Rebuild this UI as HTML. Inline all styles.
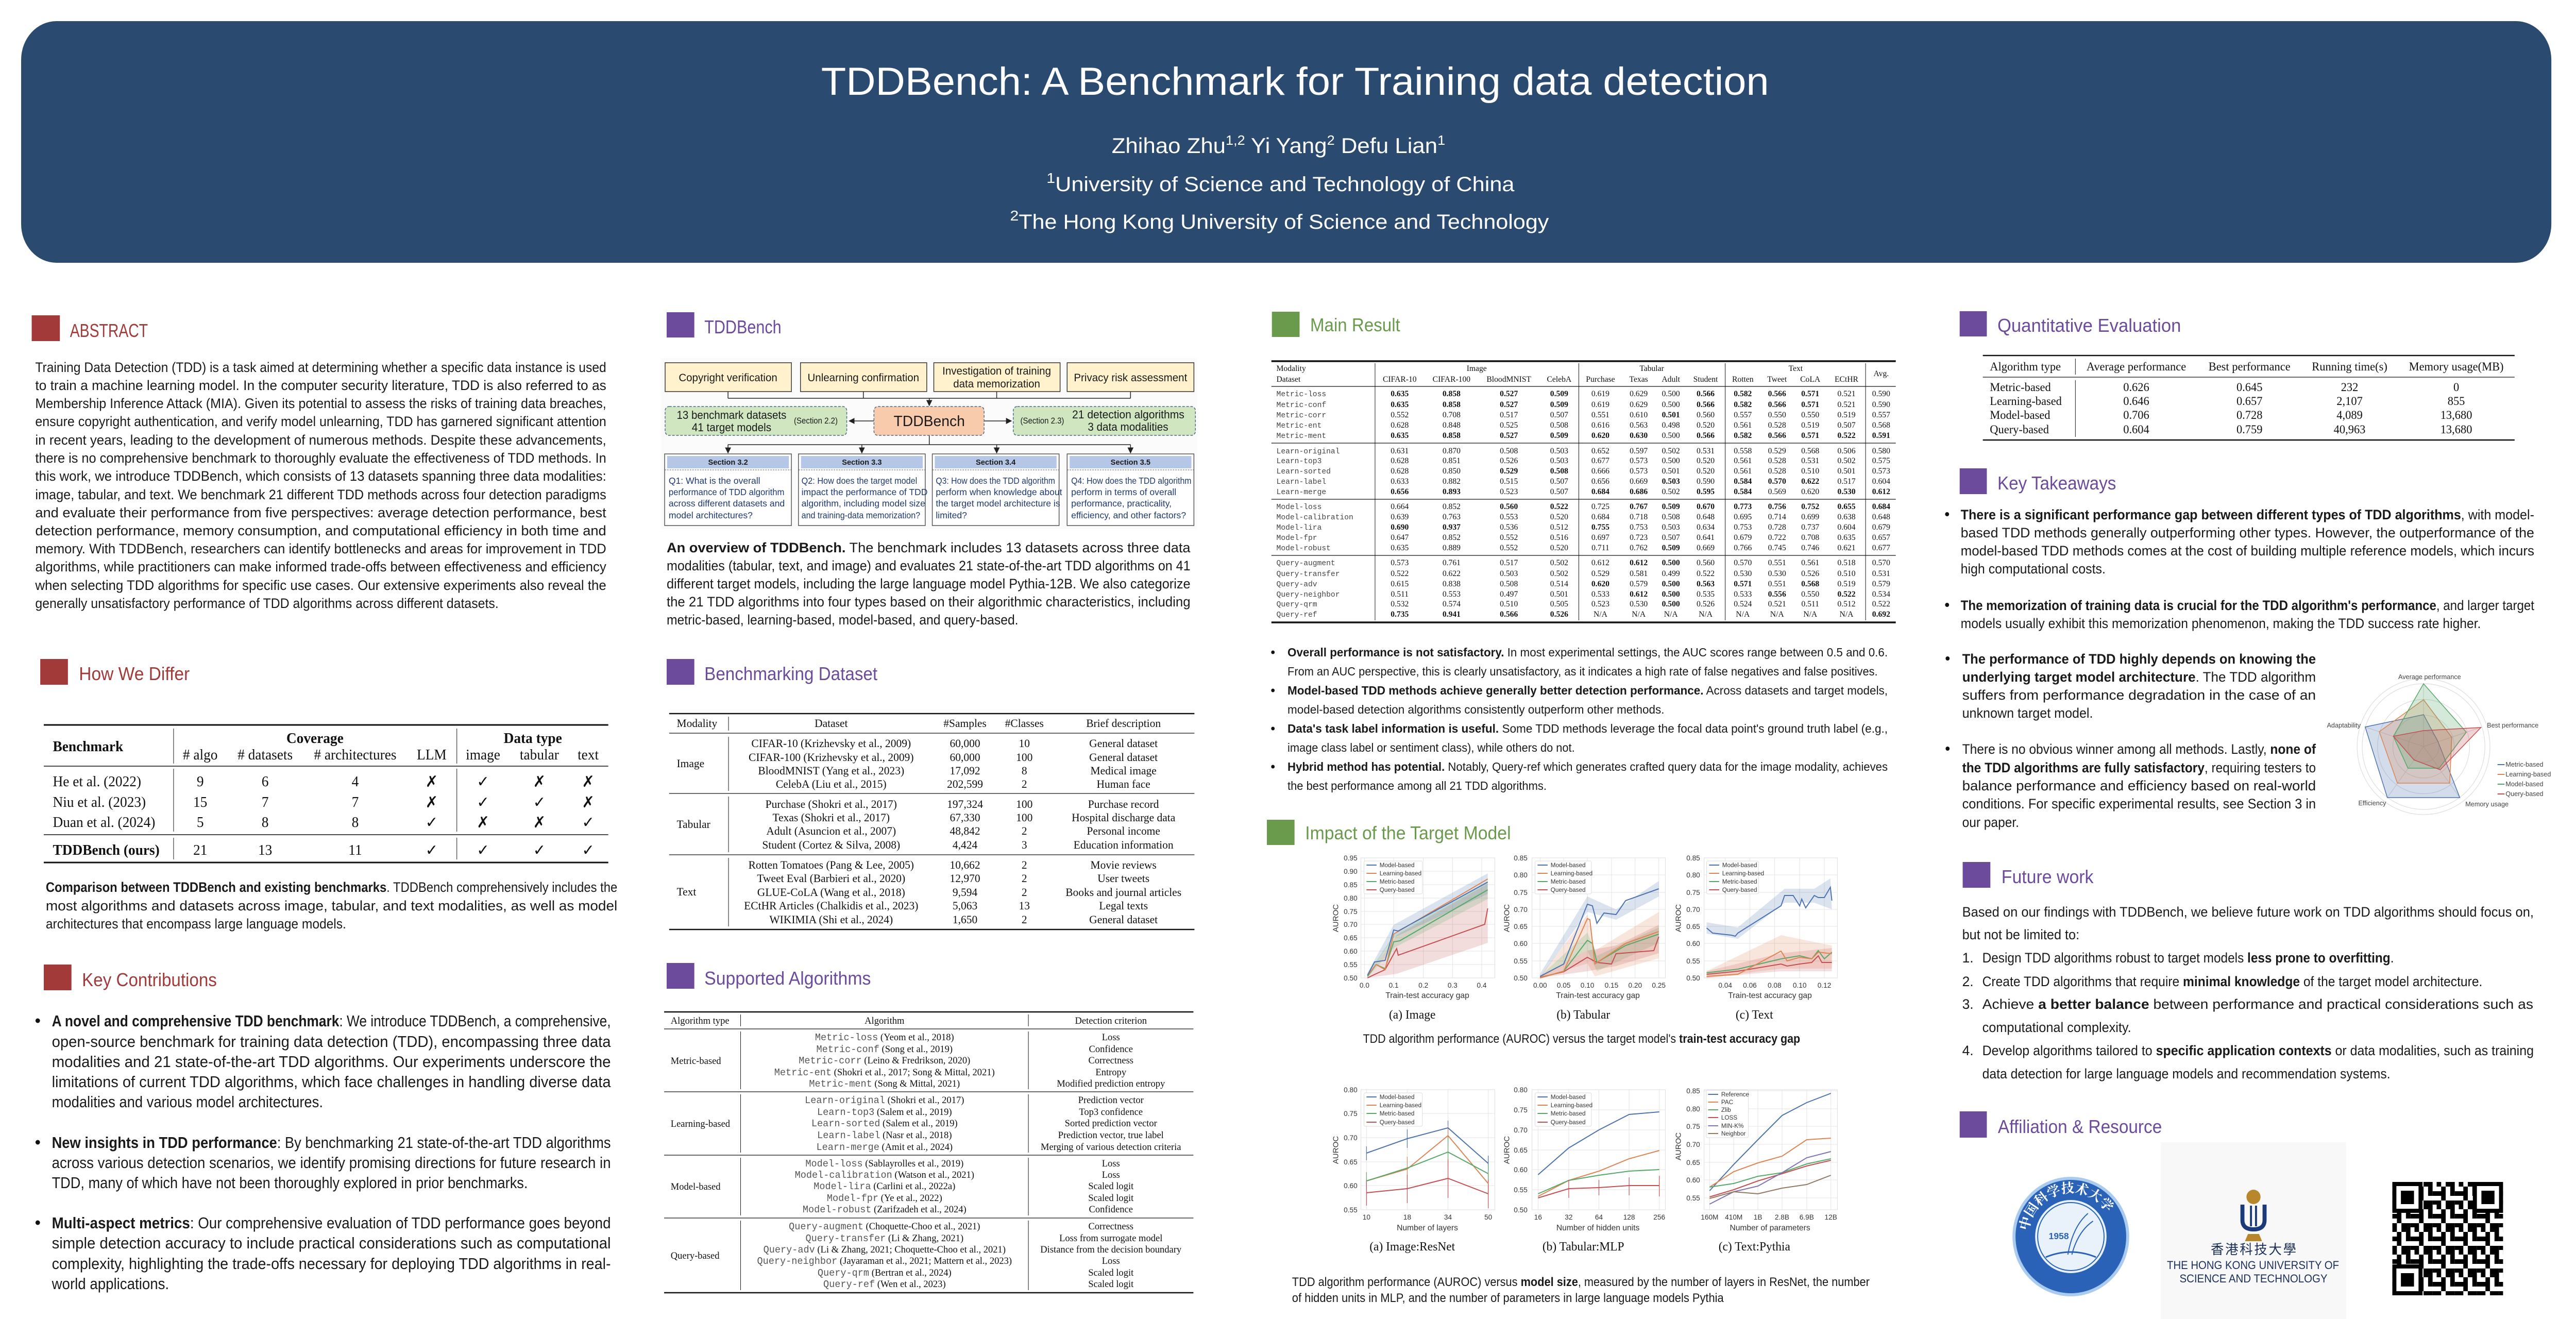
<!DOCTYPE html>
<html><head><meta charset="utf-8"><style>
html,body{margin:0;padding:0;background:#fff;width:100%;height:100%;overflow:hidden}
svg{display:block;width:100vw;height:100vh}
.t{font-family:"Liberation Sans","Noto Sans CJK SC",sans-serif;fill:#1a1a1a}
.s{font-family:"Liberation Serif",serif;fill:#111}
.m{font-family:"Liberation Mono",monospace;fill:#555}
.b{font-weight:bold}
.hr{fill:#A23A3A}.hp{fill:#6C4B9C}.hg{fill:#6A9B4D}
.h{font-family:"Liberation Sans",sans-serif;font-size:36px}
.tk{font-family:"Liberation Sans",sans-serif;font-size:14px;fill:#333}
.lg{font-family:"Liberation Sans",sans-serif;font-size:12px;fill:#333}
.grid line{stroke:#e4e4e4;stroke-width:1}
.ln{fill:none;stroke-width:2}
</style></head><body>
<svg xmlns="http://www.w3.org/2000/svg" viewBox="0 0 5120 2560" preserveAspectRatio="none">
<defs>
<marker id="ar" markerWidth="8" markerHeight="8" refX="7" refY="4" orient="auto"><path d="M0,0 L8,4 L0,8 z" fill="#222"/></marker>
<pattern id="qr" width="44" height="44" patternUnits="userSpaceOnUse" x="4755" y="2294">
<rect x="0" y="0" width="9" height="9"/><rect x="18" y="0" width="18" height="9"/><rect x="9" y="9" width="9" height="9"/><rect x="27" y="9" width="9" height="18"/><rect x="0" y="18" width="18" height="9"/><rect x="36" y="18" width="8" height="9"/><rect x="9" y="27" width="9" height="9"/><rect x="18" y="36" width="18" height="8"/><rect x="0" y="36" width="9" height="8"/><rect x="36" y="36" width="8" height="8"/>
</pattern>
<path id="usarc" d="M4031,2400 A85,85 0 0 1 4201,2400"/>
</defs>

<!-- Header -->
<rect x="42" y="41" width="5029" height="469" rx="70" ry="75" fill="#2B4A70"/>
<text x="2574" y="184" text-anchor="middle" class="t" style="fill:#fff;font-size:76px" textLength="1884" lengthAdjust="spacingAndGlyphs">TDDBench: A Benchmark for Training data detection</text>
<text x="2541" y="297" text-anchor="middle" class="t" style="fill:#fff;font-size:42px" textLength="663" lengthAdjust="spacingAndGlyphs">Zhihao Zhu<tspan dy="-16" font-size="26">1,2</tspan><tspan dy="16"> Yi Yang</tspan><tspan dy="-16" font-size="26">2</tspan><tspan dy="16"> Defu Lian</tspan><tspan dy="-16" font-size="26">1</tspan></text>
<text x="2545" y="371" text-anchor="middle" class="t" style="fill:#fff;font-size:40px" textLength="930" lengthAdjust="spacingAndGlyphs"><tspan dy="-16" font-size="28">1</tspan><tspan dy="16">University of Science and Technology of China</tspan></text>
<text x="2543" y="444" text-anchor="middle" class="t" style="fill:#fff;font-size:40px" textLength="1071" lengthAdjust="spacingAndGlyphs"><tspan dy="-16" font-size="28">2</tspan><tspan dy="16">The Hong Kong University of Science and Technology</tspan></text>

<!-- ============ COLUMN 1 ============ -->
<rect x="63" y="612" width="56" height="50" class="hr"/>
<text x="139" y="654" class="h hr" textLength="155" lengthAdjust="spacingAndGlyphs">ABSTRACT</text>
<g class="t" style="font-size:27px">
<text x="70" y="722" textLength="1135" lengthAdjust="spacingAndGlyphs">Training Data Detection (TDD) is a task aimed at determining whether a specific data instance is used</text>
<text x="70" y="757" textLength="1135" lengthAdjust="spacingAndGlyphs">to train a  machine learning model. In the computer security literature, TDD is also referred to as</text>
<text x="70" y="792" textLength="1135" lengthAdjust="spacingAndGlyphs">Membership Inference Attack (MIA). Given its potential to assess the risks of training data breaches,</text>
<text x="70" y="827" textLength="1135" lengthAdjust="spacingAndGlyphs">ensure copyright authentication, and verify model unlearning, TDD has garnered significant attention</text>
<text x="70" y="863" textLength="1135" lengthAdjust="spacingAndGlyphs">in recent years, leading to the development of numerous methods. Despite these advancements,</text>
<text x="70" y="898" textLength="1135" lengthAdjust="spacingAndGlyphs">there is no comprehensive benchmark to thoroughly evaluate the effectiveness of TDD methods. In</text>
<text x="70" y="933" textLength="1135" lengthAdjust="spacingAndGlyphs">this work, we introduce TDDBench, which consists of 13 datasets spanning three data modalities:</text>
<text x="70" y="969" textLength="1135" lengthAdjust="spacingAndGlyphs">image, tabular, and text. We benchmark 21 different TDD methods across four detection paradigms</text>
<text x="70" y="1004" textLength="1135" lengthAdjust="spacingAndGlyphs">and evaluate their performance from five perspectives: average detection performance, best</text>
<text x="70" y="1039" textLength="1135" lengthAdjust="spacingAndGlyphs">detection performance, memory consumption, and computational efficiency in both time and</text>
<text x="70" y="1074" textLength="1135" lengthAdjust="spacingAndGlyphs">memory. With TDDBench, researchers can identify bottlenecks and areas for improvement in TDD</text>
<text x="70" y="1109" textLength="1135" lengthAdjust="spacingAndGlyphs">algorithms, while practitioners can make informed trade-offs between effectiveness and efficiency</text>
<text x="70" y="1145" textLength="1135" lengthAdjust="spacingAndGlyphs">when selecting TDD algorithms for specific use cases. Our extensive experiments also reveal the</text>
<text x="70" y="1180" textLength="921" lengthAdjust="spacingAndGlyphs">generally unsatisfactory performance of TDD algorithms across different datasets.</text>
</g>

<rect x="80" y="1279" width="55" height="50" class="hr"/>
<text x="157" y="1320" class="h hr" textLength="220" lengthAdjust="spacingAndGlyphs">How We Differ</text>
<g stroke="#111">
<line x1="87" y1="1407" x2="1209" y2="1407" stroke-width="3"/>
<line x1="87" y1="1487" x2="1209" y2="1487" stroke-width="1.5"/>
<line x1="87" y1="1620" x2="1209" y2="1620" stroke-width="1.5"/>
<line x1="87" y1="1674" x2="1209" y2="1674" stroke-width="3"/>
<line x1="345" y1="1414" x2="345" y2="1482" stroke-width="1"/><line x1="345" y1="1492" x2="345" y2="1614" stroke-width="1"/><line x1="345" y1="1626" x2="345" y2="1668" stroke-width="1"/>
<line x1="908" y1="1414" x2="908" y2="1482" stroke-width="1"/><line x1="908" y1="1492" x2="908" y2="1614" stroke-width="1"/><line x1="908" y1="1626" x2="908" y2="1668" stroke-width="1"/>
</g>
<g class="s" style="font-size:28px" text-anchor="middle">
<text x="105" y="1458" text-anchor="start" class="s b">Benchmark</text>
<text x="626" y="1442" class="s b">Coverage</text>
<text x="1059" y="1442" class="s b">Data type</text>
<text x="398" y="1474"># algo</text><text x="527" y="1474"># datasets</text><text x="706" y="1474"># architectures</text><text x="858" y="1474">LLM</text>
<text x="960" y="1474">image</text><text x="1072" y="1474">tabular</text><text x="1169" y="1474">text</text>
<text x="105" y="1526" text-anchor="start">He et al. (2022)</text><text x="398" y="1526">9</text><text x="527" y="1526">6</text><text x="706" y="1526">4</text>
<text x="105" y="1566" text-anchor="start">Niu et al. (2023)</text><text x="398" y="1566">15</text><text x="527" y="1566">7</text><text x="706" y="1566">7</text>
<text x="105" y="1605" text-anchor="start">Duan et al. (2024)</text><text x="398" y="1605">5</text><text x="527" y="1605">8</text><text x="706" y="1605">8</text>
<text x="105" y="1659" text-anchor="start" class="s b">TDDBench (ours)</text><text x="398" y="1659">21</text><text x="527" y="1659">13</text><text x="706" y="1659">11</text>
</g>
<g style="font-family:'DejaVu Sans',sans-serif;font-size:30px;fill:#111" text-anchor="middle">
<text x="858" y="1527">✗</text><text x="960" y="1527">✓</text><text x="1072" y="1527">✗</text><text x="1169" y="1527">✗</text>
<text x="858" y="1567">✗</text><text x="960" y="1567">✓</text><text x="1072" y="1567">✓</text><text x="1169" y="1567">✗</text>
<text x="858" y="1606">✓</text><text x="960" y="1606">✗</text><text x="1072" y="1606">✗</text><text x="1169" y="1606">✓</text>
<text x="858" y="1660">✓</text><text x="960" y="1660">✓</text><text x="1072" y="1660">✓</text><text x="1169" y="1660">✓</text>
</g>
<g class="t" style="font-size:27px">
<text x="91" y="1731" textLength="1136" lengthAdjust="spacingAndGlyphs"><tspan class="b">Comparison between TDDBench and existing benchmarks</tspan>. TDDBench comprehensively includes the</text>
<text x="91" y="1767" textLength="1136" lengthAdjust="spacingAndGlyphs">most algorithms and datasets across image, tabular, and text modalities, as well as model</text>
<text x="91" y="1802" textLength="597" lengthAdjust="spacingAndGlyphs">architectures that encompass large language models.</text>
</g>

<rect x="87" y="1872" width="55" height="50" class="hr"/>
<text x="163" y="1914" class="h hr" textLength="268" lengthAdjust="spacingAndGlyphs">Key Contributions</text>
<g class="t" style="font-size:31px">
<circle cx="75" cy="1981" r="4.5" fill="#111"/>
<text x="103" y="1992" textLength="1111" lengthAdjust="spacingAndGlyphs"><tspan class="b">A novel and comprehensive TDD benchmark</tspan>: We introduce TDDBench, a comprehensive,</text>
<text x="103" y="2032" textLength="1111" lengthAdjust="spacingAndGlyphs">open-source benchmark for training data detection (TDD), encompassing three data</text>
<text x="103" y="2071" textLength="1111" lengthAdjust="spacingAndGlyphs">modalities and 21 state-of-the-art TDD algorithms. Our experiments underscore the</text>
<text x="103" y="2110" textLength="1111" lengthAdjust="spacingAndGlyphs">limitations of current TDD algorithms, which face challenges in handling diverse data</text>
<text x="103" y="2149" textLength="539" lengthAdjust="spacingAndGlyphs">modalities and various model architectures.</text>
<circle cx="75" cy="2217" r="4.5" fill="#111"/>
<text x="103" y="2228" textLength="1111" lengthAdjust="spacingAndGlyphs"><tspan class="b">New insights in TDD performance</tspan>: By benchmarking 21 state-of-the-art TDD algorithms</text>
<text x="103" y="2267" textLength="1111" lengthAdjust="spacingAndGlyphs">across various detection scenarios, we identify promising directions for future research in</text>
<text x="103" y="2306" textLength="946" lengthAdjust="spacingAndGlyphs">TDD, many of which have not been thoroughly explored in prior benchmarks.</text>
<circle cx="75" cy="2373" r="4.5" fill="#111"/>
<text x="103" y="2384" textLength="1111" lengthAdjust="spacingAndGlyphs"><tspan class="b">Multi-aspect metrics</tspan>: Our comprehensive evaluation of TDD performance goes beyond</text>
<text x="103" y="2423" textLength="1111" lengthAdjust="spacingAndGlyphs">simple detection accuracy to include practical considerations such as computational</text>
<text x="103" y="2463" textLength="1111" lengthAdjust="spacingAndGlyphs">complexity,  highlighting the trade-offs necessary for deploying TDD algorithms in real-</text>
<text x="103" y="2502" textLength="233" lengthAdjust="spacingAndGlyphs">world applications.</text>
</g>

<!-- ============ COLUMN 2 ============ -->
<rect x="1325" y="606" width="55" height="49" class="hp"/>
<text x="1400" y="647" class="h hp" textLength="153" lengthAdjust="spacingAndGlyphs">TDDBench</text>
<rect x="1314" y="695" width="1066" height="332" fill="#FBFBFB"/>
<g stroke="#333" stroke-width="1.5" fill="#FFF2CC">
<rect x="1322" y="704" width="251" height="56"/><rect x="1591" y="704" width="251" height="56"/><rect x="1856" y="704" width="251" height="56"/><rect x="2121" y="704" width="252" height="56"/>
</g>
<g class="t" style="font-size:21px" text-anchor="middle">
<text x="1447" y="740">Copyright verification</text><text x="1716" y="740">Unlearning confirmation</text>
<text x="1981" y="727">Investigation of training</text><text x="1981" y="752">data memorization</text>
<text x="2247" y="740">Privacy risk assessment</text>
</g>
<g stroke="#222" stroke-width="1.5" fill="none">
<path d="M1447,760V773M1716,760V773M1981,760V773M2247,760V773M1447,773H2247"/>
<line x1="1847" y1="773" x2="1847" y2="787" marker-end="url(#ar)"/>
<line x1="1737" y1="817" x2="1688" y2="817" marker-end="url(#ar)"/>
<line x1="1956" y1="817" x2="2010" y2="817" marker-end="url(#ar)"/>
<path d="M1847,845V863M1447,863H2247"/>
<line x1="1447" y1="863" x2="1447" y2="879" marker-end="url(#ar)"/><line x1="1713" y1="863" x2="1713" y2="879" marker-end="url(#ar)"/><line x1="1981" y1="863" x2="1981" y2="879" marker-end="url(#ar)"/><line x1="2247" y1="863" x2="2247" y2="879" marker-end="url(#ar)"/>
</g>
<g stroke="#4A6A8A" stroke-width="1.5" stroke-dasharray="5,3">
<rect x="1322" y="789" width="361" height="56" rx="8" fill="#CFE6C1"/>
<rect x="1737" y="789" width="219" height="56" rx="8" fill="#F8CBAD"/>
<rect x="2014" y="789" width="362" height="56" rx="8" fill="#CFE6C1"/>
</g>
<g class="t" style="font-size:22px">
<text x="1345" y="813" textLength="218" lengthAdjust="spacingAndGlyphs">13 benchmark datasets</text>
<text x="1375" y="837" textLength="158" lengthAdjust="spacingAndGlyphs">41 target models</text>
<text x="1578" y="822" style="font-size:17px" textLength="87" lengthAdjust="spacingAndGlyphs">(Section 2.2)</text>
<text x="1847" y="827" text-anchor="middle" style="font-size:29px">TDDBench</text>
<text x="2028" y="822" style="font-size:17px" textLength="87" lengthAdjust="spacingAndGlyphs">(Section 2.3)</text>
<text x="2131" y="812" textLength="223" lengthAdjust="spacingAndGlyphs">21 detection algorithms</text>
<text x="2162" y="836" textLength="160" lengthAdjust="spacingAndGlyphs">3 data modalities</text>
</g>
<g stroke="#555" stroke-width="1.5" fill="#fff">
<rect x="1321" y="881" width="252" height="139"/><rect x="1587" y="881" width="252" height="139"/><rect x="1853" y="881" width="252" height="139"/><rect x="2121" y="881" width="252" height="139"/>
</g>
<g fill="#B4C7E7"><rect x="1326" y="885" width="242" height="24"/><rect x="1592" y="885" width="242" height="24"/><rect x="1858" y="885" width="242" height="24"/><rect x="2126" y="885" width="242" height="24"/></g>
<g stroke="#555" stroke-dasharray="3,2"><line x1="1321" y1="912" x2="1573" y2="912"/><line x1="1587" y1="912" x2="1839" y2="912"/><line x1="1853" y1="912" x2="2105" y2="912"/><line x1="2121" y1="912" x2="2373" y2="912"/></g>
<g class="t b" style="font-size:15px" text-anchor="middle"><text x="1447" y="902">Section 3.2</text><text x="1713" y="902">Section 3.3</text><text x="1979" y="902">Section 3.4</text><text x="2247" y="902">Section 3.5</text></g>
<g class="t" style="font-size:18px;fill:#1F3A6E">
<text x="1329" y="939">Q1:  What is the overall</text>
<text x="1329" y="961" textLength="230" lengthAdjust="spacingAndGlyphs">performance of TDD algorithm</text>
<text x="1329" y="983">across different datasets and</text>
<text x="1329" y="1006">model architectures?</text>
<text x="1593" y="939" textLength="230" lengthAdjust="spacingAndGlyphs">Q2: How does the target model</text>
<text x="1593" y="961">impact the performance of TDD</text>
<text x="1593" y="983">algorithm, including model size</text>
<text x="1593" y="1006" textLength="236" lengthAdjust="spacingAndGlyphs">and training-data memorization?</text>
<text x="1860" y="939" textLength="237" lengthAdjust="spacingAndGlyphs">Q3: How does the TDD algorithm</text>
<text x="1860" y="961">perform when knowledge about</text>
<text x="1860" y="983">the target model architecture is</text>
<text x="1860" y="1006">limited?</text>
<text x="2129" y="939" textLength="239" lengthAdjust="spacingAndGlyphs">Q4: How does the TDD algorithm</text>
<text x="2129" y="961">perform in terms of overall</text>
<text x="2129" y="983">performance, practicality,</text>
<text x="2129" y="1006">efficiency, and other factors?</text>
</g>
<g class="t" style="font-size:27px">
<text x="1325" y="1072" textLength="1041" lengthAdjust="spacingAndGlyphs"><tspan class="b">An overview of TDDBench.</tspan> The benchmark includes 13 datasets across three data</text>
<text x="1325" y="1107" textLength="1041" lengthAdjust="spacingAndGlyphs">modalities (tabular, text, and image) and evaluates 21 state-of-the-art TDD algorithms on 41</text>
<text x="1325" y="1142" textLength="1041" lengthAdjust="spacingAndGlyphs">different target models, including the large language model Pythia-12B.  We also categorize</text>
<text x="1325" y="1177" textLength="1041" lengthAdjust="spacingAndGlyphs">the 21 TDD algorithms into four types based on their algorithmic characteristics, including</text>
<text x="1325" y="1212" textLength="699" lengthAdjust="spacingAndGlyphs">metric-based, learning-based, model-based, and query-based.</text>
</g>

<rect x="1325" y="1279" width="55" height="50" class="hp"/>
<text x="1400" y="1320" class="h hp" textLength="344" lengthAdjust="spacingAndGlyphs">Benchmarking Dataset</text>
<g stroke="#111">
<line x1="1330" y1="1385" x2="2374" y2="1385" stroke-width="2.5"/>
<line x1="1330" y1="1423" x2="2374" y2="1423" stroke-width="1.2"/>
<line x1="1330" y1="1540" x2="2374" y2="1540" stroke-width="1.2"/>
<line x1="1330" y1="1659" x2="2374" y2="1659" stroke-width="1.2"/>
<line x1="1330" y1="1804" x2="2374" y2="1804" stroke-width="2.5"/>
<line x1="1448" y1="1391" x2="1448" y2="1418"/><line x1="1448" y1="1430" x2="1448" y2="1535"/><line x1="1448" y1="1546" x2="1448" y2="1654"/><line x1="1448" y1="1665" x2="1448" y2="1798"/>
</g>
<g class="s" style="font-size:22px" text-anchor="middle">
<text x="1345" y="1411" text-anchor="start">Modality</text><text x="1652" y="1411">Dataset</text><text x="1918" y="1411">#Samples</text><text x="2036" y="1411">#Classes</text><text x="2233" y="1411">Brief description</text>
<text x="1345" y="1489" text-anchor="start">Image</text><text x="1345" y="1607" text-anchor="start">Tabular</text><text x="1345" y="1738" text-anchor="start">Text</text>
<text x="1652" y="1450">CIFAR-10 (Krizhevsky et al., 2009)</text><text x="1918" y="1450">60,000</text><text x="2036" y="1450">10</text><text x="2233" y="1450">General dataset</text>
<text x="1652" y="1477">CIFAR-100 (Krizhevsky et al., 2009)</text><text x="1918" y="1477">60,000</text><text x="2036" y="1477">100</text><text x="2233" y="1477">General dataset</text>
<text x="1652" y="1503">BloodMNIST (Yang et al., 2023)</text><text x="1918" y="1503">17,092</text><text x="2036" y="1503">8</text><text x="2233" y="1503">Medical image</text>
<text x="1652" y="1529">CelebA (Liu et al., 2015)</text><text x="1918" y="1529">202,599</text><text x="2036" y="1529">2</text><text x="2233" y="1529">Human face</text>
<text x="1652" y="1568">Purchase (Shokri et al., 2017)</text><text x="1918" y="1568">197,324</text><text x="2036" y="1568">100</text><text x="2233" y="1568">Purchase record</text>
<text x="1652" y="1594">Texas (Shokri et al., 2017)</text><text x="1918" y="1594">67,330</text><text x="2036" y="1594">100</text><text x="2233" y="1594">Hospital discharge data</text>
<text x="1652" y="1620">Adult (Asuncion et al., 2007)</text><text x="1918" y="1620">48,842</text><text x="2036" y="1620">2</text><text x="2233" y="1620">Personal income</text>
<text x="1652" y="1647">Student (Cortez &amp; Silva, 2008)</text><text x="1918" y="1647">4,424</text><text x="2036" y="1647">3</text><text x="2233" y="1647">Education information</text>
<text x="1652" y="1686">Rotten Tomatoes (Pang &amp; Lee, 2005)</text><text x="1918" y="1686">10,662</text><text x="2036" y="1686">2</text><text x="2233" y="1686">Movie reviews</text>
<text x="1652" y="1712">Tweet Eval (Barbieri et al., 2020)</text><text x="1918" y="1712">12,970</text><text x="2036" y="1712">2</text><text x="2233" y="1712">User tweets</text>
<text x="1652" y="1739">GLUE-CoLA (Wang et al., 2018)</text><text x="1918" y="1739">9,594</text><text x="2036" y="1739">2</text><text x="2233" y="1739">Books and journal articles</text>
<text x="1652" y="1765">ECtHR Articles (Chalkidis et al., 2023)</text><text x="1918" y="1765">5,063</text><text x="2036" y="1765">13</text><text x="2233" y="1765">Legal texts</text>
<text x="1652" y="1792">WIKIMIA (Shi et al., 2024)</text><text x="1918" y="1792">1,650</text><text x="2036" y="1792">2</text><text x="2233" y="1792">General dataset</text>
</g>

<rect x="1325" y="1869" width="55" height="50" class="hp"/>
<text x="1400" y="1911" class="h hp" textLength="331" lengthAdjust="spacingAndGlyphs">Supported Algorithms</text>
<g stroke="#111">
<line x1="1320" y1="1964" x2="2372" y2="1964" stroke-width="2.5"/>
<line x1="1320" y1="1997" x2="2372" y2="1997" stroke-width="1.2"/>
<line x1="1320" y1="2119" x2="2372" y2="2119" stroke-width="1.2"/>
<line x1="1320" y1="2242" x2="2372" y2="2242" stroke-width="1.2"/>
<line x1="1320" y1="2364" x2="2372" y2="2364" stroke-width="1.2"/>
<line x1="1320" y1="2509" x2="2372" y2="2509" stroke-width="2.5"/>
<path d="M1472,1969V1992M1472,2002V2114M1472,2124V2237M1472,2247V2359M1472,2369V2504M2044,1969V1992M2044,2002V2114M2044,2124V2237M2044,2247V2359M2044,2369V2504" stroke-width="1"/>
</g>
<g class="s" style="font-size:19px" text-anchor="middle">
<text x="1333" y="1987" text-anchor="start">Algorithm type</text><text x="1758" y="1987">Algorithm</text><text x="2208" y="1987">Detection criterion</text>
<text x="1333" y="2065" text-anchor="start">Metric-based</text><text x="1333" y="2187" text-anchor="start">Learning-based</text><text x="1333" y="2309" text-anchor="start">Model-based</text><text x="1333" y="2443" text-anchor="start">Query-based</text>
<text x="1758" y="2019"><tspan class="m">Metric-loss</tspan> (Yeom et al., 2018)</text>
<text x="1758" y="2042"><tspan class="m">Metric-conf</tspan> (Song et al., 2019)</text>
<text x="1758" y="2064"><tspan class="m">Metric-corr</tspan> (Leino &amp; Fredrikson, 2020)</text>
<text x="1758" y="2087"><tspan class="m">Metric-ent</tspan> (Shokri et al., 2017; Song &amp; Mittal, 2021)</text>
<text x="1758" y="2109"><tspan class="m">Metric-ment</tspan> (Song &amp; Mittal, 2021)</text>
<text x="1758" y="2141"><tspan class="m">Learn-original</tspan> (Shokri et al., 2017)</text>
<text x="1758" y="2164"><tspan class="m">Learn-top3</tspan> (Salem et al., 2019)</text>
<text x="1758" y="2186"><tspan class="m">Learn-sorted</tspan> (Salem et al., 2019)</text>
<text x="1758" y="2209"><tspan class="m">Learn-label</tspan> (Nasr et al., 2018)</text>
<text x="1758" y="2232"><tspan class="m">Learn-merge</tspan> (Amit et al., 2024)</text>
<text x="1758" y="2264"><tspan class="m">Model-loss</tspan> (Sablayrolles et al., 2019)</text>
<text x="1758" y="2286"><tspan class="m">Model-calibration</tspan> (Watson et al., 2021)</text>
<text x="1758" y="2308"><tspan class="m">Model-lira</tspan> (Carlini et al., 2022a)</text>
<text x="1758" y="2331"><tspan class="m">Model-fpr</tspan> (Ye et al., 2022)</text>
<text x="1758" y="2353"><tspan class="m">Model-robust</tspan> (Zarifzadeh et al., 2024)</text>
<text x="1758" y="2386"><tspan class="m">Query-augment</tspan> (Choquette-Choo et al., 2021)</text>
<text x="1758" y="2409"><tspan class="m">Query-transfer</tspan> (Li &amp; Zhang, 2021)</text>
<text x="1758" y="2431"><tspan class="m">Query-adv</tspan> (Li &amp; Zhang, 2021; Choquette-Choo et al., 2021)</text>
<text x="1758" y="2453"><tspan class="m">Query-neighbor</tspan> (Jayaraman et al., 2021; Mattern et al., 2023)</text>
<text x="1758" y="2476"><tspan class="m">Query-qrm</tspan> (Bertran et al., 2024)</text>
<text x="1758" y="2498"><tspan class="m">Query-ref</tspan> (Wen et al., 2023)</text>
<text x="2208" y="2019">Loss</text><text x="2208" y="2042">Confidence</text><text x="2208" y="2064">Correctness</text><text x="2208" y="2087">Entropy</text><text x="2208" y="2109">Modified prediction entropy</text>
<text x="2208" y="2141">Prediction vector</text><text x="2208" y="2164">Top3 confidence</text><text x="2208" y="2186">Sorted prediction vector</text><text x="2208" y="2209">Prediction vector, true label</text><text x="2208" y="2232">Merging of various detection criteria</text>
<text x="2208" y="2264">Loss</text><text x="2208" y="2286">Loss</text><text x="2208" y="2308">Scaled logit</text><text x="2208" y="2331">Scaled logit</text><text x="2208" y="2353">Confidence</text>
<text x="2208" y="2386">Correctness</text><text x="2208" y="2409">Loss from surrogate model</text><text x="2208" y="2431">Distance from the decision boundary</text><text x="2208" y="2453">Loss</text><text x="2208" y="2476">Scaled logit</text><text x="2208" y="2498">Scaled logit</text>
</g>

<!-- ============ COLUMN 3 ============ -->
<rect x="2528" y="605" width="55" height="49" class="hg"/>
<text x="2604" y="643" class="h hg" textLength="179" lengthAdjust="spacingAndGlyphs">Main Result</text>
<g stroke="#111">
<line x1="2527" y1="701" x2="3768" y2="701" stroke-width="3.5"/>
<line x1="2527" y1="750" x2="3768" y2="750" stroke-width="1.2"/>
<line x1="2527" y1="860" x2="3768" y2="860" stroke-width="1.2"/>
<line x1="2527" y1="969" x2="3768" y2="969" stroke-width="1.2"/>
<line x1="2527" y1="1078" x2="3768" y2="1078" stroke-width="1.2"/>
<line x1="2527" y1="1208" x2="3768" y2="1208" stroke-width="3.5"/>
<path d="M2733,705V1204M3138,705V1204M3429,705V1204M3708,705V1204" stroke-width="1"/>
</g>
<g class="s" style="font-size:16px" text-anchor="middle">
<text x="2537" y="720" text-anchor="start">Modality</text><text x="2537" y="741" text-anchor="start">Dataset</text>
<text x="2935" y="720">Image</text><text x="3283" y="720">Tabular</text><text x="3569" y="720">Text</text><text x="3739" y="730">Avg.</text>
<text y="741"><tspan x="2782">CIFAR-10</tspan><tspan x="2885">CIFAR-100</tspan><tspan x="2999">BloodMNIST</tspan><tspan x="3099">CelebA</tspan><tspan x="3181">Purchase</tspan><tspan x="3257">Texas</tspan><tspan x="3321">Adult</tspan><tspan x="3390">Student</tspan><tspan x="3464">Rotten</tspan><tspan x="3532">Tweet</tspan><tspan x="3598">CoLA</tspan><tspan x="3670">ECtHR</tspan></text>
</g>
<g class="m" style="font-size:15px;fill:#444">
<text x="2537" y="769">Metric-loss</text><text x="2537" y="790">Metric-conf</text><text x="2537" y="810">Metric-corr</text><text x="2537" y="830">Metric-ent</text><text x="2537" y="850">Metric-ment</text>
<text x="2537" y="880">Learn-original</text><text x="2537" y="899">Learn-top3</text><text x="2537" y="919">Learn-sorted</text><text x="2537" y="939">Learn-label</text><text x="2537" y="959">Learn-merge</text>
<text x="2537" y="988">Model-loss</text><text x="2537" y="1008">Model-calibration</text><text x="2537" y="1028">Model-lira</text><text x="2537" y="1048">Model-fpr</text><text x="2537" y="1068">Model-robust</text>
<text x="2537" y="1097">Query-augment</text><text x="2537" y="1118">Query-transfer</text><text x="2537" y="1138">Query-adv</text><text x="2537" y="1158">Query-neighbor</text><text x="2537" y="1177">Query-qrm</text><text x="2537" y="1197">Query-ref</text>
</g>
<g class="s" style="font-size:16px" text-anchor="middle">
<text y="769"><tspan x="2782" class="b">0.635</tspan><tspan x="2885" class="b">0.858</tspan><tspan x="2999" class="b">0.527</tspan><tspan x="3099" class="b">0.509</tspan><tspan x="3181">0.619</tspan><tspan x="3257">0.629</tspan><tspan x="3321">0.500</tspan><tspan x="3390" class="b">0.566</tspan><tspan x="3464" class="b">0.582</tspan><tspan x="3532" class="b">0.566</tspan><tspan x="3598" class="b">0.571</tspan><tspan x="3670">0.521</tspan><tspan x="3739">0.590</tspan></text>
<text y="790"><tspan x="2782" class="b">0.635</tspan><tspan x="2885" class="b">0.858</tspan><tspan x="2999" class="b">0.527</tspan><tspan x="3099" class="b">0.509</tspan><tspan x="3181">0.619</tspan><tspan x="3257">0.629</tspan><tspan x="3321">0.500</tspan><tspan x="3390" class="b">0.566</tspan><tspan x="3464" class="b">0.582</tspan><tspan x="3532" class="b">0.566</tspan><tspan x="3598" class="b">0.571</tspan><tspan x="3670">0.521</tspan><tspan x="3739">0.590</tspan></text>
<text y="810"><tspan x="2782">0.552</tspan><tspan x="2885">0.708</tspan><tspan x="2999">0.517</tspan><tspan x="3099">0.507</tspan><tspan x="3181">0.551</tspan><tspan x="3257">0.610</tspan><tspan x="3321" class="b">0.501</tspan><tspan x="3390">0.560</tspan><tspan x="3464">0.557</tspan><tspan x="3532">0.550</tspan><tspan x="3598">0.550</tspan><tspan x="3670">0.519</tspan><tspan x="3739">0.557</tspan></text>
<text y="830"><tspan x="2782">0.628</tspan><tspan x="2885">0.848</tspan><tspan x="2999">0.525</tspan><tspan x="3099">0.508</tspan><tspan x="3181">0.616</tspan><tspan x="3257">0.563</tspan><tspan x="3321">0.498</tspan><tspan x="3390">0.520</tspan><tspan x="3464">0.561</tspan><tspan x="3532">0.528</tspan><tspan x="3598">0.519</tspan><tspan x="3670">0.507</tspan><tspan x="3739">0.568</tspan></text>
<text y="850"><tspan x="2782" class="b">0.635</tspan><tspan x="2885" class="b">0.858</tspan><tspan x="2999" class="b">0.527</tspan><tspan x="3099" class="b">0.509</tspan><tspan x="3181" class="b">0.620</tspan><tspan x="3257" class="b">0.630</tspan><tspan x="3321">0.500</tspan><tspan x="3390" class="b">0.566</tspan><tspan x="3464" class="b">0.582</tspan><tspan x="3532" class="b">0.566</tspan><tspan x="3598" class="b">0.571</tspan><tspan x="3670" class="b">0.522</tspan><tspan x="3739" class="b">0.591</tspan></text>
<text y="880"><tspan x="2782">0.631</tspan><tspan x="2885">0.870</tspan><tspan x="2999">0.508</tspan><tspan x="3099">0.503</tspan><tspan x="3181">0.652</tspan><tspan x="3257">0.597</tspan><tspan x="3321">0.502</tspan><tspan x="3390">0.531</tspan><tspan x="3464">0.558</tspan><tspan x="3532">0.529</tspan><tspan x="3598">0.568</tspan><tspan x="3670">0.506</tspan><tspan x="3739">0.580</tspan></text>
<text y="899"><tspan x="2782">0.628</tspan><tspan x="2885">0.851</tspan><tspan x="2999">0.526</tspan><tspan x="3099">0.503</tspan><tspan x="3181">0.677</tspan><tspan x="3257">0.573</tspan><tspan x="3321">0.500</tspan><tspan x="3390">0.520</tspan><tspan x="3464">0.561</tspan><tspan x="3532">0.528</tspan><tspan x="3598">0.531</tspan><tspan x="3670">0.502</tspan><tspan x="3739">0.575</tspan></text>
<text y="919"><tspan x="2782">0.628</tspan><tspan x="2885">0.850</tspan><tspan x="2999" class="b">0.529</tspan><tspan x="3099" class="b">0.508</tspan><tspan x="3181">0.666</tspan><tspan x="3257">0.573</tspan><tspan x="3321">0.501</tspan><tspan x="3390">0.520</tspan><tspan x="3464">0.561</tspan><tspan x="3532">0.528</tspan><tspan x="3598">0.510</tspan><tspan x="3670">0.501</tspan><tspan x="3739">0.573</tspan></text>
<text y="939"><tspan x="2782">0.633</tspan><tspan x="2885">0.882</tspan><tspan x="2999">0.515</tspan><tspan x="3099">0.507</tspan><tspan x="3181">0.656</tspan><tspan x="3257">0.669</tspan><tspan x="3321" class="b">0.503</tspan><tspan x="3390">0.590</tspan><tspan x="3464" class="b">0.584</tspan><tspan x="3532" class="b">0.570</tspan><tspan x="3598" class="b">0.622</tspan><tspan x="3670">0.517</tspan><tspan x="3739">0.604</tspan></text>
<text y="959"><tspan x="2782" class="b">0.656</tspan><tspan x="2885" class="b">0.893</tspan><tspan x="2999">0.523</tspan><tspan x="3099">0.507</tspan><tspan x="3181" class="b">0.684</tspan><tspan x="3257" class="b">0.686</tspan><tspan x="3321">0.502</tspan><tspan x="3390" class="b">0.595</tspan><tspan x="3464" class="b">0.584</tspan><tspan x="3532">0.569</tspan><tspan x="3598">0.620</tspan><tspan x="3670" class="b">0.530</tspan><tspan x="3739" class="b">0.612</tspan></text>
<text y="988"><tspan x="2782">0.664</tspan><tspan x="2885">0.852</tspan><tspan x="2999" class="b">0.560</tspan><tspan x="3099" class="b">0.522</tspan><tspan x="3181">0.725</tspan><tspan x="3257" class="b">0.767</tspan><tspan x="3321" class="b">0.509</tspan><tspan x="3390" class="b">0.670</tspan><tspan x="3464" class="b">0.773</tspan><tspan x="3532" class="b">0.756</tspan><tspan x="3598" class="b">0.752</tspan><tspan x="3670" class="b">0.655</tspan><tspan x="3739" class="b">0.684</tspan></text>
<text y="1008"><tspan x="2782">0.639</tspan><tspan x="2885">0.763</tspan><tspan x="2999">0.553</tspan><tspan x="3099">0.520</tspan><tspan x="3181">0.684</tspan><tspan x="3257">0.718</tspan><tspan x="3321">0.508</tspan><tspan x="3390">0.648</tspan><tspan x="3464">0.695</tspan><tspan x="3532">0.714</tspan><tspan x="3598">0.699</tspan><tspan x="3670">0.638</tspan><tspan x="3739">0.648</tspan></text>
<text y="1028"><tspan x="2782" class="b">0.690</tspan><tspan x="2885" class="b">0.937</tspan><tspan x="2999">0.536</tspan><tspan x="3099">0.512</tspan><tspan x="3181" class="b">0.755</tspan><tspan x="3257">0.753</tspan><tspan x="3321">0.503</tspan><tspan x="3390">0.634</tspan><tspan x="3464">0.753</tspan><tspan x="3532">0.728</tspan><tspan x="3598">0.737</tspan><tspan x="3670">0.604</tspan><tspan x="3739">0.679</tspan></text>
<text y="1048"><tspan x="2782">0.647</tspan><tspan x="2885">0.852</tspan><tspan x="2999">0.552</tspan><tspan x="3099">0.516</tspan><tspan x="3181">0.697</tspan><tspan x="3257">0.723</tspan><tspan x="3321">0.507</tspan><tspan x="3390">0.641</tspan><tspan x="3464">0.679</tspan><tspan x="3532">0.722</tspan><tspan x="3598">0.708</tspan><tspan x="3670">0.635</tspan><tspan x="3739">0.657</tspan></text>
<text y="1068"><tspan x="2782">0.635</tspan><tspan x="2885">0.889</tspan><tspan x="2999">0.552</tspan><tspan x="3099">0.520</tspan><tspan x="3181">0.711</tspan><tspan x="3257">0.762</tspan><tspan x="3321" class="b">0.509</tspan><tspan x="3390">0.669</tspan><tspan x="3464">0.766</tspan><tspan x="3532">0.745</tspan><tspan x="3598">0.746</tspan><tspan x="3670">0.621</tspan><tspan x="3739">0.677</tspan></text>
<text y="1097"><tspan x="2782">0.573</tspan><tspan x="2885">0.761</tspan><tspan x="2999">0.517</tspan><tspan x="3099">0.502</tspan><tspan x="3181">0.612</tspan><tspan x="3257" class="b">0.612</tspan><tspan x="3321" class="b">0.500</tspan><tspan x="3390">0.560</tspan><tspan x="3464">0.570</tspan><tspan x="3532">0.551</tspan><tspan x="3598">0.561</tspan><tspan x="3670">0.518</tspan><tspan x="3739">0.570</tspan></text>
<text y="1118"><tspan x="2782">0.522</tspan><tspan x="2885">0.622</tspan><tspan x="2999">0.503</tspan><tspan x="3099">0.502</tspan><tspan x="3181">0.529</tspan><tspan x="3257">0.581</tspan><tspan x="3321">0.499</tspan><tspan x="3390">0.522</tspan><tspan x="3464">0.530</tspan><tspan x="3532">0.530</tspan><tspan x="3598">0.526</tspan><tspan x="3670">0.510</tspan><tspan x="3739">0.531</tspan></text>
<text y="1138"><tspan x="2782">0.615</tspan><tspan x="2885">0.838</tspan><tspan x="2999">0.508</tspan><tspan x="3099">0.514</tspan><tspan x="3181" class="b">0.620</tspan><tspan x="3257">0.579</tspan><tspan x="3321" class="b">0.500</tspan><tspan x="3390" class="b">0.563</tspan><tspan x="3464" class="b">0.571</tspan><tspan x="3532">0.551</tspan><tspan x="3598" class="b">0.568</tspan><tspan x="3670">0.519</tspan><tspan x="3739">0.579</tspan></text>
<text y="1158"><tspan x="2782">0.511</tspan><tspan x="2885">0.553</tspan><tspan x="2999">0.497</tspan><tspan x="3099">0.501</tspan><tspan x="3181">0.533</tspan><tspan x="3257" class="b">0.612</tspan><tspan x="3321" class="b">0.500</tspan><tspan x="3390">0.535</tspan><tspan x="3464">0.533</tspan><tspan x="3532" class="b">0.556</tspan><tspan x="3598">0.550</tspan><tspan x="3670" class="b">0.522</tspan><tspan x="3739">0.534</tspan></text>
<text y="1177"><tspan x="2782">0.532</tspan><tspan x="2885">0.574</tspan><tspan x="2999">0.510</tspan><tspan x="3099">0.505</tspan><tspan x="3181">0.523</tspan><tspan x="3257">0.530</tspan><tspan x="3321" class="b">0.500</tspan><tspan x="3390">0.526</tspan><tspan x="3464">0.524</tspan><tspan x="3532">0.521</tspan><tspan x="3598">0.511</tspan><tspan x="3670">0.512</tspan><tspan x="3739">0.522</tspan></text>
<text y="1197"><tspan x="2782" class="b">0.735</tspan><tspan x="2885" class="b">0.941</tspan><tspan x="2999" class="b">0.566</tspan><tspan x="3099" class="b">0.526</tspan><tspan x="3181">N/A</tspan><tspan x="3257">N/A</tspan><tspan x="3321">N/A</tspan><tspan x="3390">N/A</tspan><tspan x="3464">N/A</tspan><tspan x="3532">N/A</tspan><tspan x="3598">N/A</tspan><tspan x="3670">N/A</tspan><tspan x="3739" class="b">0.692</tspan></text>
</g>
<g class="t" style="font-size:23px">
<circle cx="2530" cy="1266" r="3.5" fill="#111"/><circle cx="2530" cy="1340" r="3.5" fill="#111"/><circle cx="2530" cy="1414" r="3.5" fill="#111"/><circle cx="2530" cy="1488" r="3.5" fill="#111"/>
<text x="2559" y="1274" textLength="1193" lengthAdjust="spacingAndGlyphs"><tspan class="b">Overall performance is not satisfactory.</tspan> In most experimental settings, the AUC scores range between 0.5 and 0.6.</text>
<text x="2559" y="1311" textLength="1173" lengthAdjust="spacingAndGlyphs">From an AUC perspective, this is clearly unsatisfactory, as it indicates a high rate of false negatives and false positives.</text>
<text x="2559" y="1348" textLength="1193" lengthAdjust="spacingAndGlyphs"><tspan class="b">Model-based TDD methods achieve generally better detection performance.</tspan> Across datasets and target models,</text>
<text x="2559" y="1385" textLength="749" lengthAdjust="spacingAndGlyphs">model-based detection algorithms consistently outperform other methods.</text>
<text x="2559" y="1422" textLength="1193" lengthAdjust="spacingAndGlyphs"><tspan class="b">Data's task label information is useful.</tspan> Some TDD methods leverage the focal data point's ground truth label (e.g.,</text>
<text x="2559" y="1459" textLength="571" lengthAdjust="spacingAndGlyphs">image class label or sentiment class), while others do not.</text>
<text x="2559" y="1496" textLength="1193" lengthAdjust="spacingAndGlyphs"><tspan class="b">Hybrid method has potential.</tspan> Notably, Query-ref which generates crafted query data for the image modality, achieves</text>
<text x="2559" y="1533" textLength="515" lengthAdjust="spacingAndGlyphs">the best performance among all 21 TDD algorithms.</text>
</g>

<rect x="2518" y="1591" width="55" height="49" class="hg"/>
<text x="2594" y="1629" class="h hg" textLength="409" lengthAdjust="spacingAndGlyphs">Impact of the Target Model</text>

<!-- Plot row 1 -->
<g>
<rect x="2705" y="1665" width="266" height="233" fill="#fff" stroke="#ddd"/>
<g class="grid"><line x1="2705" x2="2971" y1="1872" y2="1872"/><line x1="2705" x2="2971" y1="1846" y2="1846"/><line x1="2705" x2="2971" y1="1820" y2="1820"/><line x1="2705" x2="2971" y1="1794" y2="1794"/><line x1="2705" x2="2971" y1="1769" y2="1769"/><line x1="2705" x2="2971" y1="1743" y2="1743"/><line x1="2705" x2="2971" y1="1717" y2="1717"/><line x1="2705" x2="2971" y1="1691" y2="1691"/><line y1="1665" y2="1898" x1="2712" x2="2712"/><line y1="1665" y2="1898" x1="2770" x2="2770"/><line y1="1665" y2="1898" x1="2829" x2="2829"/><line y1="1665" y2="1898" x1="2887" x2="2887"/><line y1="1665" y2="1898" x1="2945" x2="2945"/></g>
<polygon points="2718,1895 2776,1815 2957,1715 2957,1830 2776,1890 2718,1898" fill="#C44E52" opacity=".2"/>
<polygon points="2718,1888 2770,1795 2957,1695 2957,1735 2770,1820 2718,1897" fill="#4C72B0" opacity=".2"/>
<polygon points="2718,1890 2770,1815 2957,1710 2957,1745 2770,1840 2718,1897" fill="#55A868" opacity=".2"/>
<polyline class="ln" stroke="#C44E52" points="2718,1898 2735,1890 2753,1882 2776,1841 2779,1854 2951,1794 2957,1763"/>
<polyline class="ln" stroke="#55A868" points="2718,1895 2735,1872 2753,1880 2770,1828 2782,1826 2957,1727"/>
<polyline class="ln" stroke="#DD8452" points="2718,1893 2735,1872 2753,1882 2770,1813 2957,1706"/>
<polyline class="ln" stroke="#4C72B0" points="2718,1893 2732,1867 2753,1864 2770,1805 2779,1807 2957,1712"/>
<g class="tk" text-anchor="end"><text x="2698" y="1903">0.50</text><text x="2698" y="1877">0.55</text><text x="2698" y="1851">0.60</text><text x="2698" y="1825">0.65</text><text x="2698" y="1799">0.70</text><text x="2698" y="1774">0.75</text><text x="2698" y="1748">0.80</text><text x="2698" y="1722">0.85</text><text x="2698" y="1696">0.90</text><text x="2698" y="1670">0.95</text></g>
<g class="tk" text-anchor="middle"><text x="2712" y="1917">0.0</text><text x="2770" y="1917">0.1</text><text x="2829" y="1917">0.2</text><text x="2887" y="1917">0.3</text><text x="2945" y="1917">0.4</text></g>
</g>
<g>
<rect x="3045" y="1665" width="265" height="233" fill="#fff" stroke="#ddd"/>
<g class="grid"><line x1="3045" x2="3310" y1="1865" y2="1865"/><line x1="3045" x2="3310" y1="1831" y2="1831"/><line x1="3045" x2="3310" y1="1798" y2="1798"/><line x1="3045" x2="3310" y1="1765" y2="1765"/><line x1="3045" x2="3310" y1="1732" y2="1732"/><line x1="3045" x2="3310" y1="1698" y2="1698"/><line y1="1665" y2="1898" x1="3061" x2="3061"/><line y1="1665" y2="1898" x1="3108" x2="3108"/><line y1="1665" y2="1898" x1="3155" x2="3155"/><line y1="1665" y2="1898" x1="3203" x2="3203"/><line y1="1665" y2="1898" x1="3250" x2="3250"/><line y1="1665" y2="1898" x1="3297" x2="3297"/></g>
<polygon points="3061,1890 3155,1740 3212,1765 3297,1710 3297,1740 3212,1785 3155,1770 3061,1898" fill="#4C72B0" opacity=".2"/>
<polygon points="3061,1895 3155,1775 3170,1845 3297,1770 3297,1860 3170,1895 3155,1870 3061,1898" fill="#DD8452" opacity=".2"/>
<polygon points="3061,1895 3155,1810 3174,1855 3297,1800 3297,1830 3174,1885 3155,1845 3061,1898" fill="#55A868" opacity=".2"/>
<polygon points="3061,1895 3155,1845 3212,1835 3297,1795 3297,1850 3212,1875 3155,1885 3061,1898" fill="#C44E52" opacity=".2"/>
<polyline class="ln" stroke="#C44E52" points="3061,1897 3108,1886 3155,1858 3174,1868 3203,1871 3212,1851 3250,1848 3287,1845 3297,1818"/>
<polyline class="ln" stroke="#55A868" points="3061,1898 3108,1885 3155,1825 3165,1831 3174,1868 3231,1835 3297,1813"/>
<polyline class="ln" stroke="#DD8452" points="3061,1898 3108,1885 3155,1783 3160,1785 3170,1871 3231,1831 3297,1808"/>
<polyline class="ln" stroke="#4C72B0" points="3061,1895 3108,1871 3155,1755 3165,1758 3174,1792 3188,1772 3212,1775 3231,1748 3297,1725"/>
<g class="tk" text-anchor="end"><text x="3036" y="1903">0.50</text><text x="3036" y="1870">0.55</text><text x="3036" y="1836">0.60</text><text x="3036" y="1803">0.65</text><text x="3036" y="1770">0.70</text><text x="3036" y="1737">0.75</text><text x="3036" y="1703">0.80</text><text x="3036" y="1670">0.85</text></g>
<g class="tk" text-anchor="middle"><text x="3061" y="1917">0.00</text><text x="3108" y="1917">0.05</text><text x="3155" y="1917">0.10</text><text x="3203" y="1917">0.15</text><text x="3250" y="1917">0.20</text><text x="3297" y="1917">0.25</text></g>
</g>
<g>
<rect x="3387" y="1665" width="265" height="233" fill="#fff" stroke="#ddd"/>
<g class="grid"><line x1="3387" x2="3652" y1="1865" y2="1865"/><line x1="3387" x2="3652" y1="1831" y2="1831"/><line x1="3387" x2="3652" y1="1798" y2="1798"/><line x1="3387" x2="3652" y1="1765" y2="1765"/><line x1="3387" x2="3652" y1="1732" y2="1732"/><line x1="3387" x2="3652" y1="1698" y2="1698"/><line y1="1665" y2="1898" x1="3429" x2="3429"/><line y1="1665" y2="1898" x1="3478" x2="3478"/><line y1="1665" y2="1898" x1="3527" x2="3527"/><line y1="1665" y2="1898" x1="3577" x2="3577"/><line y1="1665" y2="1898" x1="3626" x2="3626"/></g>
<polygon points="3392,1790 3454,1800 3547,1725 3606,1725 3638,1705 3641,1765 3606,1752 3547,1752 3454,1822 3392,1812" fill="#4C72B0" opacity=".2"/>
<polygon points="3392,1885 3540,1815 3614,1830 3641,1835 3641,1880 3540,1880 3392,1898" fill="#DD8452" opacity=".2"/>
<polygon points="3392,1885 3540,1850 3641,1840 3641,1885 3540,1885 3392,1898" fill="#C44E52" opacity=".18"/>
<polyline class="ln" stroke="#C44E52" points="3392,1891 3454,1885 3540,1871 3552,1875 3577,1871 3601,1868 3614,1855 3621,1868 3641,1868"/>
<polyline class="ln" stroke="#55A868" points="3392,1888 3454,1881 3540,1861 3577,1855 3601,1861 3614,1845 3626,1861 3641,1848"/>
<polyline class="ln" stroke="#DD8452" points="3392,1895 3454,1891 3540,1846 3552,1865 3577,1858 3601,1861 3614,1848 3641,1851"/>
<polyline class="ln" stroke="#4C72B0" points="3392,1801 3404,1811 3441,1815 3449,1817 3454,1811 3540,1758 3547,1738 3564,1738 3577,1758 3581,1745 3589,1762 3606,1738 3614,1742 3626,1742 3638,1722 3641,1748"/>
<g class="tk" text-anchor="end"><text x="3379" y="1903">0.50</text><text x="3379" y="1870">0.55</text><text x="3379" y="1836">0.60</text><text x="3379" y="1803">0.65</text><text x="3379" y="1770">0.70</text><text x="3379" y="1737">0.75</text><text x="3379" y="1703">0.80</text><text x="3379" y="1670">0.85</text></g>
<g class="tk" text-anchor="middle"><text x="3429" y="1917">0.04</text><text x="3478" y="1917">0.06</text><text x="3527" y="1917">0.08</text><text x="3577" y="1917">0.10</text><text x="3626" y="1917">0.12</text></g>
</g>
<g>
<rect x="2711" y="1671" width="116" height="64" fill="#fff" stroke="#ddd" rx="3"/><rect x="3051" y="1671" width="112" height="64" fill="#fff" stroke="#ddd" rx="3"/><rect x="3392" y="1671" width="103" height="64" fill="#fff" stroke="#ddd" rx="3"/>
<g stroke-width="2"><path d="M2716,1679h20" stroke="#4C72B0"/><path d="M2716,1695h20" stroke="#DD8452"/><path d="M2716,1711h20" stroke="#55A868"/><path d="M2716,1727h20" stroke="#C44E52"/>
<path d="M3056,1679h20" stroke="#4C72B0"/><path d="M3056,1695h20" stroke="#DD8452"/><path d="M3056,1711h20" stroke="#55A868"/><path d="M3056,1727h20" stroke="#C44E52"/>
<path d="M3397,1679h20" stroke="#4C72B0"/><path d="M3397,1695h20" stroke="#DD8452"/><path d="M3397,1711h20" stroke="#55A868"/><path d="M3397,1727h20" stroke="#C44E52"/></g>
<g class="lg"><text x="2742" y="1683">Model-based</text><text x="2742" y="1699">Learning-based</text><text x="2742" y="1715">Metric-based</text><text x="2742" y="1731">Query-based</text>
<text x="3082" y="1683">Model-based</text><text x="3082" y="1699">Learning-based</text><text x="3082" y="1715">Metric-based</text><text x="3082" y="1731">Query-based</text>
<text x="3423" y="1683">Model-based</text><text x="3423" y="1699">Learning-based</text><text x="3423" y="1715">Metric-based</text><text x="3423" y="1731">Query-based</text></g>
</g>
<g class="tk" style="font-size:15px" text-anchor="middle">
<text transform="translate(2660,1782) rotate(-90)">AUROC</text><text transform="translate(3000,1782) rotate(-90)">AUROC</text><text transform="translate(3341,1782) rotate(-90)">AUROC</text>
<text x="2837" y="1937" style="font-size:16px">Train-test accuracy gap</text><text x="3176" y="1937" style="font-size:16px">Train-test accuracy gap</text><text x="3518" y="1937" style="font-size:16px">Train-test accuracy gap</text>
</g>
<g class="s" style="font-size:24px" text-anchor="middle"><text x="2807" y="1977">(a) Image</text><text x="3147" y="1977">(b) Tabular</text><text x="3487" y="1977">(c) Text</text></g>
<text x="2709" y="2024" class="t" style="font-size:24px" textLength="869" lengthAdjust="spacingAndGlyphs">TDD algorithm performance (AUROC) versus the target model's <tspan class="b">train-test accuracy gap</tspan></text>

<!-- Plot row 2 -->
<g>
<rect x="2705" y="2115" width="266" height="233" fill="#fff" stroke="#ddd"/>
<g class="grid"><line x1="2705" x2="2971" y1="2301" y2="2301"/><line x1="2705" x2="2971" y1="2255" y2="2255"/><line x1="2705" x2="2971" y1="2208" y2="2208"/><line x1="2705" x2="2971" y1="2161" y2="2161"/><line y1="2115" y2="2348" x1="2716" x2="2716"/><line y1="2115" y2="2348" x1="2797" x2="2797"/><line y1="2115" y2="2348" x1="2878" x2="2878"/><line y1="2115" y2="2348" x1="2958" x2="2958"/></g>
<g stroke-width="1.2"><path d="M2716,2225V2252M2797,2192V2228M2878,2175V2203M2958,2243V2272" stroke="#4C72B0"/><path d="M2797,2245V2290M2878,2185V2225M2958,2278V2317" stroke="#DD8452"/><path d="M2716,2275V2310M2878,2205V2265M2958,2262V2294" stroke="#55A868"/><path d="M2716,2290V2340M2797,2280V2335M2878,2250V2325M2958,2290V2345" stroke="#C44E52"/></g>
<polyline class="ln" stroke="#4C72B0" points="2716,2238 2797,2210 2878,2189 2958,2258"/>
<polyline class="ln" stroke="#DD8452" points="2716,2292 2797,2269 2878,2204 2958,2297"/>
<polyline class="ln" stroke="#55A868" points="2716,2292 2797,2267 2878,2236 2958,2278"/>
<polyline class="ln" stroke="#C44E52" points="2716,2315 2797,2307 2878,2287 2958,2317"/>
<g class="tk" text-anchor="end"><text x="2698" y="2353">0.55</text><text x="2698" y="2306">0.60</text><text x="2698" y="2260">0.65</text><text x="2698" y="2213">0.70</text><text x="2698" y="2166">0.75</text><text x="2698" y="2120">0.80</text></g>
<g class="tk" text-anchor="middle"><text x="2716" y="2367">10</text><text x="2797" y="2367">18</text><text x="2878" y="2367">34</text><text x="2958" y="2367">50</text></g>
</g>
<g>
<rect x="3045" y="2115" width="265" height="233" fill="#fff" stroke="#ddd"/>
<g class="grid"><line x1="3045" x2="3310" y1="2309" y2="2309"/><line x1="3045" x2="3310" y1="2270" y2="2270"/><line x1="3045" x2="3310" y1="2232" y2="2232"/><line x1="3045" x2="3310" y1="2193" y2="2193"/><line x1="3045" x2="3310" y1="2154" y2="2154"/><line y1="2115" y2="2348" x1="3057" x2="3057"/><line y1="2115" y2="2348" x1="3118" x2="3118"/><line y1="2115" y2="2348" x1="3178" x2="3178"/><line y1="2115" y2="2348" x1="3238" x2="3238"/><line y1="2115" y2="2348" x1="3298" x2="3298"/></g>
<polyline class="ln" stroke="#4C72B0" points="3057,2280 3118,2228 3178,2193 3238,2163 3298,2158"/>
<polyline class="ln" stroke="#DD8452" points="3057,2322 3118,2291 3178,2273 3238,2249 3298,2233"/>
<polyline class="ln" stroke="#55A868" points="3057,2317 3118,2291 3178,2281 3238,2273 3298,2270"/>
<polyline class="ln" stroke="#C44E52" points="3057,2325 3118,2307 3178,2305 3238,2301 3298,2301"/>
<path d="M3118,2290V2325M3178,2290V2320M3238,2285V2320M3298,2282V2322" stroke="#C44E52" stroke-width="1.2"/>
<g class="tk" text-anchor="end"><text x="3036" y="2353">0.50</text><text x="3036" y="2314">0.55</text><text x="3036" y="2275">0.60</text><text x="3036" y="2237">0.65</text><text x="3036" y="2198">0.70</text><text x="3036" y="2159">0.75</text><text x="3036" y="2120">0.80</text></g>
<g class="tk" text-anchor="middle"><text x="3057" y="2367">16</text><text x="3118" y="2367">32</text><text x="3178" y="2367">64</text><text x="3238" y="2367">128</text><text x="3298" y="2367">256</text></g>
</g>
<g>
<rect x="3387" y="2115" width="265" height="233" fill="#fff" stroke="#ddd"/>
<g class="grid"><line x1="3387" x2="3652" y1="2325" y2="2325"/><line x1="3387" x2="3652" y1="2290" y2="2290"/><line x1="3387" x2="3652" y1="2256" y2="2256"/><line x1="3387" x2="3652" y1="2221" y2="2221"/><line x1="3387" x2="3652" y1="2186" y2="2186"/><line x1="3387" x2="3652" y1="2152" y2="2152"/><line x1="3387" x2="3652" y1="2117" y2="2117"/><line y1="2115" y2="2348" x1="3398" x2="3398"/><line y1="2115" y2="2348" x1="3446" x2="3446"/><line y1="2115" y2="2348" x1="3494" x2="3494"/><line y1="2115" y2="2348" x1="3542" x2="3542"/><line y1="2115" y2="2348" x1="3591" x2="3591"/><line y1="2115" y2="2348" x1="3639" x2="3639"/></g>
<polyline class="ln" stroke="#4C72B0" points="3398,2311 3446,2260 3494,2212 3542,2165 3591,2140 3639,2122"/>
<polyline class="ln" stroke="#DD8452" points="3398,2304 3446,2274 3494,2257 3542,2244 3591,2212 3639,2209"/>
<polyline class="ln" stroke="#55A868" points="3398,2304 3446,2297 3494,2283 3542,2276 3591,2259 3639,2249"/>
<polyline class="ln" stroke="#C44E52" points="3398,2323 3446,2309 3494,2292 3542,2278 3591,2263 3639,2252"/>
<polyline class="ln" stroke="#8172B3" points="3398,2337 3446,2313 3494,2302 3542,2276 3591,2247 3639,2235"/>
<polyline class="ln" stroke="#937860" points="3398,2326 3446,2313 3494,2317 3542,2306 3591,2299 3639,2281"/>
<g class="tk" text-anchor="end"><text x="3379" y="2330">0.55</text><text x="3379" y="2295">0.60</text><text x="3379" y="2261">0.65</text><text x="3379" y="2226">0.70</text><text x="3379" y="2191">0.75</text><text x="3379" y="2157">0.80</text><text x="3379" y="2122">0.85</text></g>
<g class="tk" text-anchor="middle"><text x="3398" y="2367">160M</text><text x="3446" y="2367">410M</text><text x="3494" y="2367">1B</text><text x="3542" y="2367">2.8B</text><text x="3591" y="2367">6.9B</text><text x="3639" y="2367">12B</text></g>
</g>
<g>
<rect x="2711" y="2121" width="116" height="65" fill="#fff" stroke="#ddd" rx="3"/><rect x="3051" y="2121" width="112" height="65" fill="#fff" stroke="#ddd" rx="3"/><rect x="3391" y="2116" width="84" height="92" fill="#fff" stroke="#ddd" rx="3"/>
<g stroke-width="2"><path d="M2716,2129h20" stroke="#4C72B0"/><path d="M2716,2145h20" stroke="#DD8452"/><path d="M2716,2161h20" stroke="#55A868"/><path d="M2716,2178h20" stroke="#C44E52"/>
<path d="M3056,2129h20" stroke="#4C72B0"/><path d="M3056,2145h20" stroke="#DD8452"/><path d="M3056,2161h20" stroke="#55A868"/><path d="M3056,2178h20" stroke="#C44E52"/>
<path d="M3395,2124h20" stroke="#4C72B0"/><path d="M3395,2139h20" stroke="#DD8452"/><path d="M3395,2154h20" stroke="#55A868"/><path d="M3395,2169h20" stroke="#C44E52"/><path d="M3395,2185h20" stroke="#8172B3"/><path d="M3395,2200h20" stroke="#937860"/></g>
<g class="lg"><text x="2742" y="2133">Model-based</text><text x="2742" y="2149">Learning-based</text><text x="2742" y="2165">Metric-based</text><text x="2742" y="2182">Query-based</text>
<text x="3082" y="2133">Model-based</text><text x="3082" y="2149">Learning-based</text><text x="3082" y="2165">Metric-based</text><text x="3082" y="2182">Query-based</text>
<text x="3421" y="2128">Reference</text><text x="3421" y="2143">PAC</text><text x="3421" y="2158">Zlib</text><text x="3421" y="2173">LOSS</text><text x="3421" y="2189">MIN-K%</text><text x="3421" y="2204">Neighbor</text></g>
</g>
<g class="tk" style="font-size:15px" text-anchor="middle">
<text transform="translate(2660,2232) rotate(-90)">AUROC</text><text transform="translate(3000,2232) rotate(-90)">AUROC</text><text transform="translate(3341,2225) rotate(-90)">AUROC</text>
<text x="2837" y="2388" style="font-size:16px">Number of layers</text><text x="3176" y="2388" style="font-size:16px">Number of hidden units</text><text x="3518" y="2388" style="font-size:16px">Number of parameters</text>
</g>
<g class="s" style="font-size:24px" text-anchor="middle"><text x="2807" y="2427">(a) Image:ResNet</text><text x="3147" y="2427">(b) Tabular:MLP</text><text x="3487" y="2427">(c) Text:Pythia</text></g>
<g class="t" style="font-size:24px">
<text x="2568" y="2496" textLength="1148" lengthAdjust="spacingAndGlyphs">TDD algorithm performance (AUROC) versus <tspan class="b">model size</tspan>, measured by the number of layers in ResNet, the number</text>
<text x="2568" y="2527" textLength="858" lengthAdjust="spacingAndGlyphs">of hidden units in MLP, and the number of parameters in large language models Pythia</text>
</g>

<!-- ============ COLUMN 4 ============ -->
<rect x="3895" y="604" width="54" height="49" class="hp"/>
<text x="3970" y="644" class="h hp" textLength="365" lengthAdjust="spacingAndGlyphs">Quantitative Evaluation</text>
<g stroke="#111">
<line x1="3941" y1="690" x2="4998" y2="690" stroke-width="2.5"/>
<line x1="3941" y1="732" x2="4998" y2="732" stroke-width="1.2"/>
<line x1="3941" y1="854" x2="4998" y2="854" stroke-width="2.5"/>
<path d="M4125,696V727M4125,738V848"/>
</g>
<g class="s" style="font-size:23px" text-anchor="middle">
<text x="3955" y="719" text-anchor="start">Algorithm type</text><text x="4246" y="719">Average performance</text><text x="4471" y="719">Best performance</text><text x="4670" y="719">Running time(s)</text><text x="4882" y="719">Memory usage(MB)</text>
<text x="3955" y="759" text-anchor="start">Metric-based</text><text x="4246" y="759">0.626</text><text x="4471" y="759">0.645</text><text x="4670" y="759">232</text><text x="4882" y="759">0</text>
<text x="3955" y="786" text-anchor="start">Learning-based</text><text x="4246" y="786">0.646</text><text x="4471" y="786">0.657</text><text x="4670" y="786">2,107</text><text x="4882" y="786">855</text>
<text x="3955" y="813" text-anchor="start">Model-based</text><text x="4246" y="813">0.706</text><text x="4471" y="813">0.728</text><text x="4670" y="813">4,089</text><text x="4882" y="813">13,680</text>
<text x="3955" y="841" text-anchor="start">Query-based</text><text x="4246" y="841">0.604</text><text x="4471" y="841">0.759</text><text x="4670" y="841">40,963</text><text x="4882" y="841">13,680</text>
</g>

<rect x="3895" y="909" width="54" height="50" class="hp"/>
<text x="3970" y="950" class="h hp" textLength="236" lengthAdjust="spacingAndGlyphs">Key Takeaways</text>
<g class="t" style="font-size:27px">
<circle cx="3870" cy="998" r="4" fill="#111"/><circle cx="3870" cy="1174" r="4" fill="#111"/><circle cx="3871" cy="1278" r="4" fill="#111"/><circle cx="3871" cy="1453" r="4" fill="#111"/>
<text x="3897" y="1008" textLength="1140" lengthAdjust="spacingAndGlyphs"><tspan class="b">There is a significant performance gap between different types of TDD algorithms</tspan>, with model-</text>
<text x="3897" y="1043" textLength="1140" lengthAdjust="spacingAndGlyphs">based TDD methods generally outperforming other types. However, the outperformance of the</text>
<text x="3897" y="1078" textLength="1140" lengthAdjust="spacingAndGlyphs">model-based TDD methods comes at the cost of building multiple reference models, which incurs</text>
<text x="3897" y="1113" textLength="288" lengthAdjust="spacingAndGlyphs">high computational costs.</text>
<text x="3897" y="1184" textLength="1140" lengthAdjust="spacingAndGlyphs"><tspan class="b">The memorization of training data is crucial for the TDD algorithm's performance</tspan>, and larger target</text>
<text x="3897" y="1219" textLength="1034" lengthAdjust="spacingAndGlyphs">models usually exhibit this memorization phenomenon, making the TDD success rate higher.</text>
<text x="3900" y="1288" textLength="703" lengthAdjust="spacingAndGlyphs" class="t b">The performance of TDD highly depends on knowing the</text>
<text x="3900" y="1323" textLength="703" lengthAdjust="spacingAndGlyphs"><tspan class="b">underlying target model architecture</tspan>. The TDD algorithm</text>
<text x="3900" y="1358" textLength="703" lengthAdjust="spacingAndGlyphs">suffers from performance degradation in the case of an</text>
<text x="3900" y="1393" textLength="260" lengthAdjust="spacingAndGlyphs">unknown target model.</text>
<text x="3900" y="1463" textLength="703" lengthAdjust="spacingAndGlyphs">There is no obvious winner among all methods. Lastly, <tspan class="b">none of</tspan></text>
<text x="3900" y="1499" textLength="703" lengthAdjust="spacingAndGlyphs"><tspan class="b">the TDD algorithms are fully satisfactory</tspan>, requiring testers to</text>
<text x="3900" y="1534" textLength="703" lengthAdjust="spacingAndGlyphs">balance performance and efficiency based on real-world</text>
<text x="3900" y="1569" textLength="703" lengthAdjust="spacingAndGlyphs">conditions. For specific experimental results, see Section 3 in</text>
<text x="3900" y="1605" textLength="113" lengthAdjust="spacingAndGlyphs">our paper.</text>
</g>
<g fill="none" stroke="#ddd" stroke-width="1.2">
<circle cx="4817" cy="1449" r="132"/><circle cx="4817" cy="1449" r="122"/><circle cx="4817" cy="1449" r="91.5"/><circle cx="4817" cy="1449" r="61"/><circle cx="4817" cy="1449" r="30.5"/>
<path d="M4817,1449V1327M4817,1449L4933,1411M4817,1449L4889,1548M4817,1449L4745,1548M4817,1449L4701,1411"/>
</g>
<polygon points="4817,1387 4846,1440 4889,1548 4745,1548 4701,1411" fill="#4C72B0" fill-opacity=".25" stroke="#4C72B0" stroke-width="1.5"/>
<polygon points="4817,1358 4873,1431 4869,1520 4765,1520 4729,1420" fill="#DD8452" fill-opacity=".25" stroke="#DD8452" stroke-width="1.5"/>
<polygon points="4817,1327 4902,1421 4848,1491 4786,1491 4757,1429" fill="#55A868" fill-opacity=".25" stroke="#55A868" stroke-width="1.5"/>
<polygon points="4817,1418 4931,1412 4850,1494 4798,1475 4757,1429" fill="#C44E52" fill-opacity=".25" stroke="#C44E52" stroke-width="1.5"/>
<g class="lg" style="font-size:13px;fill:#444">
<text x="4829" y="1318" text-anchor="middle">Average performance</text><text x="4943" y="1412">Best performance</text><text x="4692" y="1412" text-anchor="end">Adaptability</text><text x="4715" y="1563" text-anchor="middle">Efficiency</text><text x="4943" y="1565" text-anchor="middle">Memory usage</text>
<text x="4980" y="1488">Metric-based</text><text x="4980" y="1507">Learning-based</text><text x="4980" y="1526">Model-based</text><text x="4980" y="1545">Query-based</text>
</g>
<g stroke-width="2"><path d="M4964,1484h14" stroke="#4C72B0"/><path d="M4964,1503h14" stroke="#DD8452"/><path d="M4964,1522h14" stroke="#55A868"/><path d="M4964,1541h14" stroke="#C44E52"/></g>

<rect x="3901" y="1673" width="55" height="50" class="hp"/>
<text x="3978" y="1714" class="h hp" textLength="183" lengthAdjust="spacingAndGlyphs">Future work</text>
<g class="t" style="font-size:27px">
<text x="3900" y="1779" textLength="1136" lengthAdjust="spacingAndGlyphs">Based on our findings with TDDBench, we believe future work on TDD algorithms should focus on,</text>
<text x="3900" y="1823" textLength="233" lengthAdjust="spacingAndGlyphs">but not be limited to:</text>
<text x="3900" y="1868">1.</text><text x="3940" y="1868" textLength="818" lengthAdjust="spacingAndGlyphs">Design TDD algorithms robust to target models <tspan class="b">less prone to overfitting</tspan>.</text>
<text x="3900" y="1914">2.</text><text x="3940" y="1914" textLength="994" lengthAdjust="spacingAndGlyphs">Create TDD algorithms that require <tspan class="b">minimal knowledge</tspan> of the target model architecture.</text>
<text x="3900" y="1958">3.</text><text x="3940" y="1958" textLength="1095" lengthAdjust="spacingAndGlyphs">Achieve  <tspan class="b">a  better  balance</tspan>  between  performance  and  practical  considerations  such  as</text>
<text x="3940" y="2003" textLength="296" lengthAdjust="spacingAndGlyphs">computational complexity.</text>
<text x="3900" y="2048">4.</text><text x="3940" y="2048" textLength="1096" lengthAdjust="spacingAndGlyphs">Develop algorithms tailored to <tspan class="b">specific application contexts</tspan> or data modalities, such as training</text>
<text x="3940" y="2093" textLength="811" lengthAdjust="spacingAndGlyphs">data detection for large language models and recommendation systems.</text>
</g>

<rect x="3895" y="2157" width="54" height="51" class="hp"/>
<text x="3971" y="2199" class="h hp" textLength="326" lengthAdjust="spacingAndGlyphs">Affiliation &amp; Resource</text>
<circle cx="4116" cy="2400" r="113" fill="#2A62B8" stroke="#A9CBEF" stroke-width="6"/>
<circle cx="4116" cy="2400" r="74" fill="#E9F1FB" stroke="#2A62B8" stroke-width="6"/>
<circle cx="4116" cy="2400" r="66" fill="none" stroke="#2A62B8" stroke-width="2"/>
<path d="M4066,2440 Q4116,2420 4166,2440" fill="none" stroke="#2A62B8" stroke-width="3"/>
<path d="M4110,2435 Q4120,2380 4150,2355 M4118,2435 Q4130,2390 4160,2370" fill="none" stroke="#2A62B8" stroke-width="2"/>
<text x="4092" y="2405" text-anchor="middle" style="font-family:'Liberation Sans',sans-serif;font-weight:bold;font-size:18px;fill:#2A62B8">1958</text>
<text style="font-family:'Liberation Sans','Noto Serif CJK SC',serif;font-size:26px;fill:#fff;font-weight:bold"><textPath href="#usarc" startOffset="4%">中国科学技术大学</textPath></text>
<rect x="4295" y="2217" width="368" height="343" fill="#F8F8F8"/>
<circle cx="4479" cy="2323" r="14" fill="#B8862B"/>
<path d="M4457,2338 v30 q0,18 22,18 q22,0 22,-18 v-30" fill="none" stroke="#1B3A7A" stroke-width="8"/>
<path d="M4474,2340 v40 M4484,2340 v40" stroke="#1B3A7A" stroke-width="4"/>
<path d="M4468,2395 h22 l6,14 h-34 z" fill="#B8862B"/>
<text x="4479" y="2434" text-anchor="middle" style="font-family:'Noto Sans CJK TC','WenQuanYi Zen Hei',sans-serif;font-size:26px;fill:#1B2F5B" textLength="170" lengthAdjust="spacing">香港科技大學</text>
<text x="4307" y="2463" class="t" style="font-size:22px;fill:#1B2F5B" textLength="342" lengthAdjust="spacingAndGlyphs">THE HONG KONG UNIVERSITY OF</text>
<text x="4332" y="2489" class="t" style="font-size:22px;fill:#1B2F5B" textLength="294" lengthAdjust="spacingAndGlyphs">SCIENCE AND TECHNOLOGY</text>
<rect x="4755" y="2294" width="220" height="220" fill="url(#qr)"/>
<g fill="#000">
<rect x="4755" y="2294" width="60" height="60"/><rect x="4915" y="2294" width="60" height="60"/><rect x="4755" y="2454" width="60" height="60"/>
</g>
<g fill="#fff"><rect x="4763" y="2302" width="44" height="44"/><rect x="4923" y="2302" width="44" height="44"/><rect x="4763" y="2462" width="44" height="44"/></g>
<g fill="#000"><rect x="4772" y="2311" width="26" height="26"/><rect x="4932" y="2311" width="26" height="26"/><rect x="4772" y="2471" width="26" height="26"/></g>
</svg>
</body></html>
